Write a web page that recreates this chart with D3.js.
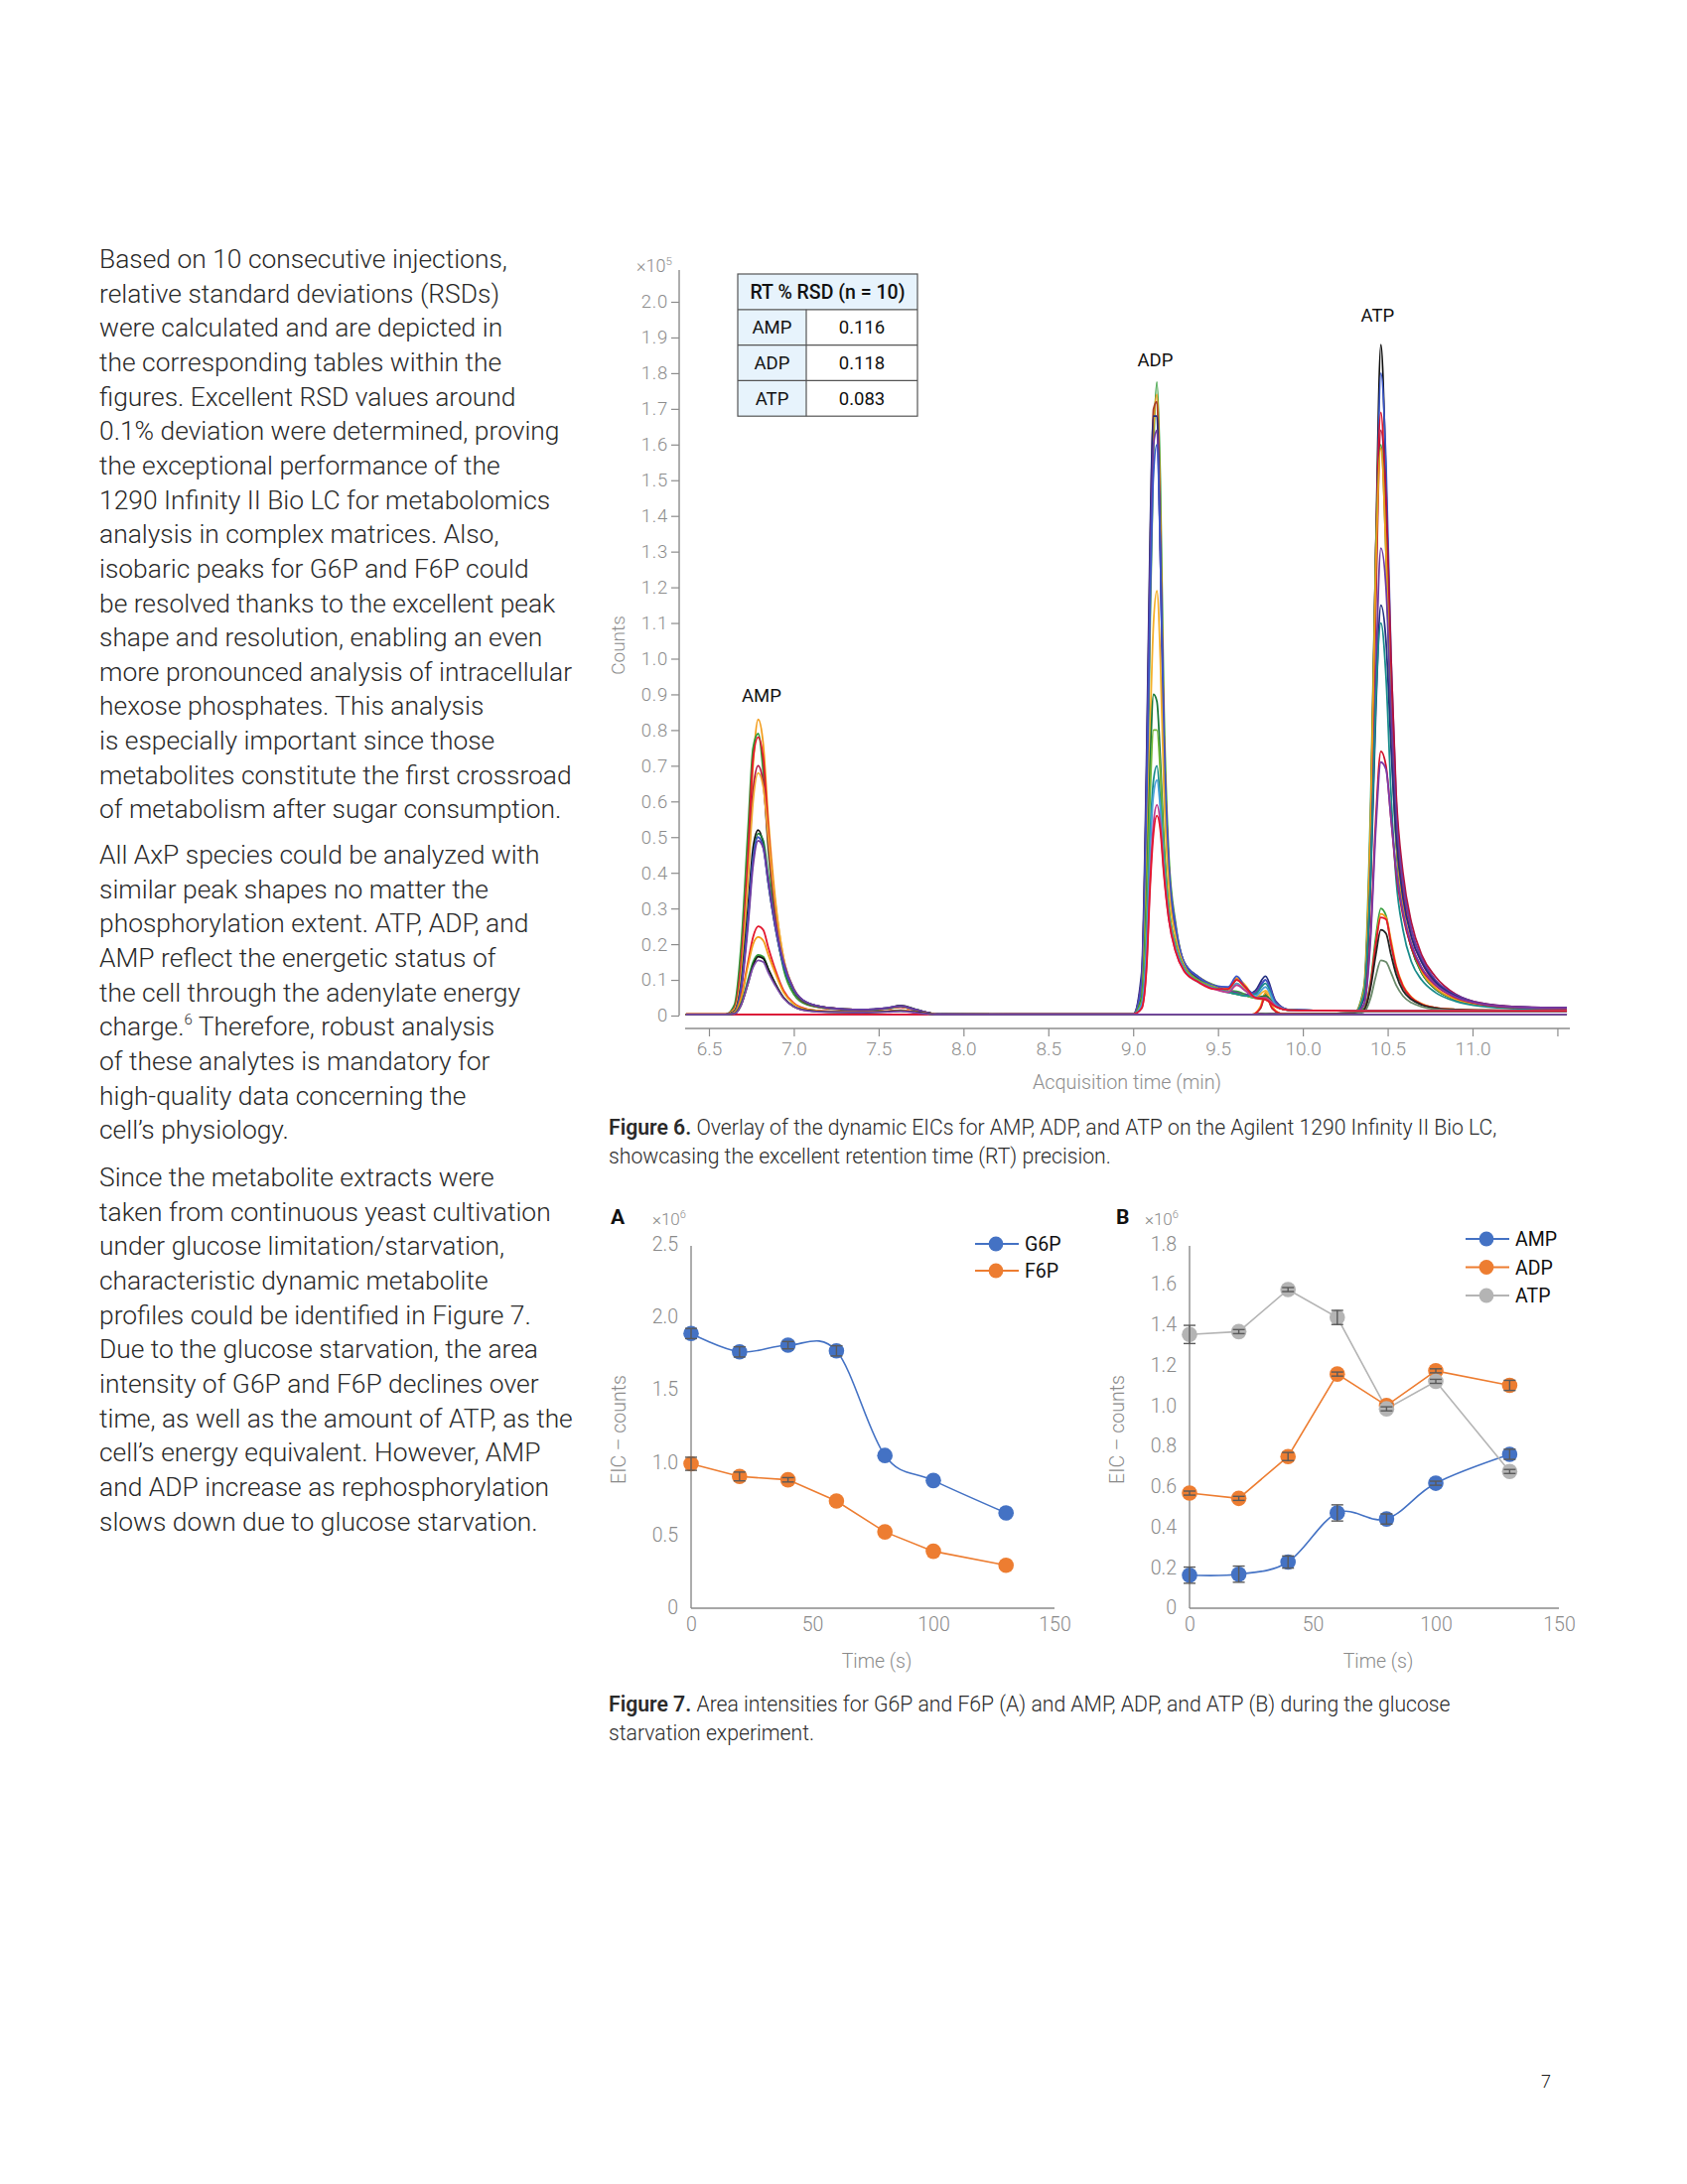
<!DOCTYPE html>
<html><head><meta charset="utf-8">
<script src="https://cdn.jsdelivr.net/npm/d3@7"></script>
<style>body{margin:0;background:#fff}svg{display:block}text{font-family:Roboto,"Noto Sans",sans-serif}</style>
</head><body>
<script>
// ---------------- DATA ----------------
const PARA1 = ["Based on 10 consecutive injections,","relative standard deviations (RSDs)","were calculated and are depicted in","the corresponding tables within the","figures. Excellent RSD values around","0.1% deviation were determined, proving","the exceptional performance of the","1290 Infinity II Bio LC for metabolomics","analysis in complex matrices. Also,","isobaric peaks for G6P and F6P could","be resolved thanks to the excellent peak","shape and resolution, enabling an even","more pronounced analysis of intracellular","hexose phosphates. This analysis","is especially important since those","metabolites constitute the first crossroad","of metabolism after sugar consumption."];
const PARA2 = ["All AxP species could be analyzed with","similar peak shapes no matter the","phosphorylation extent. ATP, ADP, and","AMP reflect the energetic status of","the cell through the adenylate energy","charge.^6 Therefore, robust analysis","of these analytes is mandatory for","high-quality data concerning the","cell\u2019s physiology."];
const PARA3 = ["Since the metabolite extracts were","taken from continuous yeast cultivation","under glucose limitation/starvation,","characteristic dynamic metabolite","profiles could be identified in Figure 7.","Due to the glucose starvation, the area","intensity of G6P and F6P declines over","time, as well as the amount of ATP, as the","cell\u2019s energy equivalent. However, AMP","and ADP increase as rephosphorylation","slows down due to glucose starvation."];

// Figure 6 : RSD table
const RSD_HEADER = "RT % RSD (n = 10)";
const RSD_NAMES = ["AMP","ADP","ATP"];
const RSD_VALUES = ["0.116","0.118","0.083"];

// Figure 6 : axis ticks (x 10^5 counts, minutes)
const Y6_TICKS = [0,0.1,0.2,0.3,0.4,0.5,0.6,0.7,0.8,0.9,1.0,1.1,1.2,1.3,1.4,1.5,1.6,1.7,1.8,1.9,2.0];
const X6_TICKS = [6.5,7.0,7.5,8.0,8.5,9.0,9.5,10.0,10.5,11.0,11.5];
const X6_LABELS = ["6.5","7.0","7.5","8.0","8.5","9.0","9.5","10.0","10.5","11.0",""];
const PEAK_LABELS = ["AMP","ADP","ATP"];
const PEAK_LABEL_T = [6.81, 9.13, 10.44];
const PEAK_LABEL_V = [0.88, 1.82, 1.945];

// AMP EIC traces (x10^5 counts) sampled at AMP_T (min)
const AMP_T = [6.365,6.60,6.65,6.69,6.73,6.76,6.79,6.82,6.85,6.89,6.94,7.00,7.08,7.20,7.40,7.55,7.63,7.72,7.85,8.20,11.556];
const AMP_TRACES = [
 [0.004,0.004,0.015,0.12,0.42,0.70,0.83,0.76,0.55,0.33,0.16,0.075,0.035,0.022,0.016,0.02,0.026,0.016,0.004,0.003,0.003],
 [0.004,0.004,0.03,0.20,0.52,0.75,0.79,0.68,0.46,0.27,0.13,0.06,0.03,0.02,0.015,0.02,0.025,0.015,0.004,0.003,0.003],
 [0.004,0.004,0.02,0.15,0.45,0.72,0.78,0.72,0.52,0.31,0.15,0.07,0.034,0.022,0.016,0.02,0.024,0.015,0.004,0.003,0.003],
 [0.004,0.004,0.02,0.14,0.40,0.63,0.70,0.65,0.48,0.30,0.15,0.07,0.033,0.02,0.015,0.019,0.024,0.015,0.004,0.003,0.003],
 [0.004,0.004,0.018,0.12,0.38,0.60,0.68,0.64,0.50,0.32,0.16,0.075,0.035,0.021,0.016,0.02,0.025,0.015,0.004,0.003,0.003],
 [0.003,0.003,0.012,0.09,0.30,0.47,0.52,0.48,0.37,0.25,0.14,0.07,0.035,0.022,0.016,0.021,0.028,0.017,0.004,0.003,0.003],
 [0.003,0.003,0.012,0.08,0.27,0.44,0.51,0.49,0.39,0.26,0.14,0.07,0.034,0.021,0.016,0.02,0.026,0.016,0.004,0.003,0.003],
 [0.003,0.003,0.01,0.08,0.27,0.44,0.50,0.47,0.37,0.25,0.14,0.072,0.036,0.022,0.016,0.021,0.027,0.016,0.004,0.003,0.003],
 [0.003,0.003,0.01,0.07,0.25,0.42,0.49,0.47,0.38,0.26,0.15,0.075,0.036,0.022,0.016,0.021,0.027,0.016,0.004,0.003,0.003],
 [0.003,0.003,0.008,0.05,0.15,0.22,0.25,0.24,0.19,0.13,0.07,0.035,0.018,0.012,0.01,0.012,0.015,0.01,0.003,0.003,0.003],
 [0.003,0.003,0.008,0.05,0.14,0.20,0.22,0.21,0.17,0.12,0.065,0.033,0.017,0.012,0.01,0.012,0.014,0.01,0.003,0.003,0.003],
 [0.003,0.003,0.006,0.035,0.10,0.15,0.17,0.165,0.13,0.09,0.05,0.026,0.014,0.01,0.009,0.011,0.013,0.009,0.003,0.003,0.003],
 [0.003,0.003,0.005,0.03,0.09,0.14,0.165,0.16,0.13,0.09,0.05,0.025,0.014,0.01,0.009,0.011,0.013,0.009,0.003,0.003,0.003],
 [0.003,0.003,0.005,0.03,0.09,0.135,0.155,0.15,0.12,0.085,0.048,0.025,0.013,0.01,0.009,0.01,0.012,0.008,0.003,0.003,0.003]
];
const AMP_COLORS = ["#f39c1a","#2f9a35","#e3162d","#b3133f","#f0a830","#111111","#1c7a3a","#3a56c8","#6d3aa0","#e3162d","#f39c1a","#2f9a35","#111111","#7a4aa8"];

// ADP EIC traces
const ADP_T = [6.365,9.00,9.05,9.08,9.10,9.12,9.14,9.16,9.18,9.21,9.25,9.30,9.38,9.48,9.56,9.61,9.66,9.72,9.78,9.84,9.92,10.10,10.35,11.556];
const ADP_TRACES = [
 [0.003,0.004,0.06,0.50,1.10,1.58,1.775,1.50,0.90,0.45,0.26,0.15,0.11,0.085,0.07,0.068,0.06,0.052,0.05,0.028,0.016,0.014,0.013,0.013],
 [0.003,0.004,0.08,0.60,1.20,1.65,1.74,1.40,0.82,0.42,0.25,0.15,0.11,0.083,0.075,0.105,0.085,0.05,0.045,0.025,0.015,0.014,0.013,0.013],
 [0.003,0.004,0.10,0.70,1.30,1.70,1.72,1.35,0.80,0.41,0.24,0.145,0.105,0.082,0.07,0.10,0.08,0.048,0.045,0.025,0.015,0.014,0.013,0.013],
 [0.003,0.004,0.12,0.75,1.35,1.68,1.68,1.30,0.78,0.40,0.24,0.145,0.105,0.08,0.068,0.062,0.058,0.07,0.11,0.04,0.016,0.014,0.013,0.013],
 [0.003,0.004,0.10,0.68,1.25,1.60,1.64,1.30,0.80,0.42,0.25,0.15,0.11,0.082,0.07,0.064,0.058,0.065,0.10,0.038,0.016,0.014,0.013,0.013],
 [0.003,0.004,0.08,0.60,1.15,1.52,1.60,1.30,0.80,0.42,0.25,0.15,0.11,0.084,0.08,0.11,0.08,0.06,0.10,0.035,0.016,0.014,0.013,0.013],
 [0.003,0.004,0.05,0.40,0.80,1.10,1.19,1.00,0.65,0.36,0.22,0.14,0.10,0.08,0.068,0.09,0.075,0.05,0.07,0.03,0.015,0.014,0.013,0.013],
 [0.003,0.004,0.05,0.35,0.70,0.90,0.88,0.72,0.50,0.30,0.20,0.135,0.10,0.078,0.066,0.06,0.056,0.05,0.055,0.028,0.015,0.014,0.013,0.013],
 [0.003,0.004,0.04,0.30,0.62,0.80,0.80,0.68,0.48,0.30,0.20,0.135,0.10,0.078,0.066,0.06,0.056,0.05,0.05,0.028,0.015,0.014,0.013,0.013],
 [0.003,0.004,0.03,0.22,0.50,0.66,0.70,0.60,0.44,0.28,0.19,0.13,0.095,0.076,0.065,0.06,0.055,0.06,0.09,0.03,0.015,0.014,0.013,0.013],
 [0.003,0.004,0.03,0.20,0.46,0.62,0.66,0.58,0.43,0.28,0.19,0.13,0.095,0.076,0.066,0.09,0.07,0.055,0.08,0.03,0.015,0.014,0.013,0.013],
 [0.003,0.004,0.02,0.15,0.38,0.54,0.59,0.54,0.41,0.27,0.18,0.125,0.095,0.074,0.065,0.085,0.07,0.05,0.05,0.027,0.015,0.014,0.013,0.013],
 [0.003,0.004,0.02,0.14,0.36,0.51,0.56,0.52,0.40,0.27,0.18,0.125,0.095,0.074,0.075,0.10,0.08,0.05,0.045,0.025,0.015,0.014,0.013,0.013]
];
const ADP_COLORS = ["#3aa040","#f39c1a","#a8402a","#232f80","#6d3aa0","#3a56c8","#f5b02a","#1c7a3a","#72b83a","#1a8c8c","#4aa0d8","#c03a8c","#e3162d"];

// ATP EIC traces
const ATP_T = [6.365,9.70,9.75,9.78,9.82,9.88,10.30,10.36,10.40,10.43,10.46,10.49,10.52,10.55,10.59,10.64,10.70,10.78,10.90,11.05,11.30,11.556];
const ATP_TRACES = [
 [0.003,0.003,0.004,0.005,0.004,0.004,0.006,0.06,0.50,1.30,1.88,1.50,0.90,0.50,0.30,0.19,0.12,0.075,0.045,0.03,0.022,0.02],
 [0.003,0.003,0.004,0.005,0.004,0.004,0.006,0.05,0.45,1.20,1.80,1.55,1.00,0.60,0.38,0.24,0.16,0.10,0.06,0.035,0.024,0.022],
 [0.003,0.003,0.004,0.005,0.004,0.004,0.006,0.07,0.55,1.30,1.69,1.40,0.90,0.55,0.35,0.22,0.15,0.09,0.055,0.032,0.022,0.02],
 [0.003,0.003,0.004,0.005,0.004,0.004,0.006,0.05,0.45,1.15,1.64,1.45,1.00,0.62,0.40,0.26,0.17,0.11,0.06,0.035,0.024,0.022],
 [0.003,0.003,0.004,0.005,0.004,0.004,0.006,0.08,0.60,1.30,1.60,1.30,0.80,0.48,0.30,0.19,0.12,0.075,0.045,0.03,0.02,0.019],
 [0.003,0.003,0.004,0.005,0.004,0.004,0.006,0.07,0.55,1.25,1.59,1.30,0.82,0.50,0.31,0.20,0.125,0.078,0.046,0.03,0.021,0.019],
 [0.003,0.003,0.004,0.005,0.004,0.004,0.005,0.05,0.40,0.95,1.31,1.20,0.85,0.56,0.37,0.24,0.16,0.10,0.058,0.034,0.023,0.021],
 [0.003,0.003,0.004,0.005,0.004,0.004,0.005,0.05,0.38,0.85,1.15,1.05,0.75,0.50,0.33,0.22,0.15,0.095,0.055,0.033,0.023,0.021],
 [0.003,0.003,0.004,0.005,0.004,0.004,0.005,0.06,0.40,0.88,1.10,0.95,0.62,0.38,0.24,0.15,0.10,0.065,0.04,0.026,0.019,0.018],
 [0.003,0.003,0.004,0.005,0.004,0.004,0.005,0.03,0.24,0.55,0.74,0.70,0.55,0.40,0.28,0.19,0.13,0.085,0.05,0.032,0.022,0.02],
 [0.003,0.003,0.004,0.005,0.004,0.004,0.005,0.03,0.22,0.52,0.71,0.69,0.55,0.41,0.29,0.20,0.135,0.088,0.052,0.033,0.023,0.021],
 [0.003,0.003,0.02,0.06,0.02,0.005,0.005,0.02,0.10,0.22,0.30,0.28,0.20,0.13,0.08,0.05,0.032,0.022,0.017,0.015,0.014,0.014],
 [0.003,0.003,0.025,0.065,0.025,0.005,0.005,0.015,0.09,0.20,0.285,0.275,0.21,0.14,0.085,0.052,0.033,0.022,0.017,0.015,0.014,0.014],
 [0.003,0.003,0.02,0.055,0.02,0.005,0.005,0.015,0.09,0.20,0.275,0.27,0.20,0.135,0.082,0.05,0.032,0.022,0.017,0.015,0.014,0.014],
 [0.003,0.003,0.004,0.005,0.004,0.004,0.005,0.015,0.08,0.17,0.24,0.23,0.17,0.115,0.07,0.045,0.03,0.021,0.016,0.015,0.014,0.014],
 [0.003,0.003,0.004,0.005,0.004,0.004,0.004,0.01,0.05,0.11,0.155,0.15,0.12,0.085,0.055,0.036,0.025,0.018,0.015,0.014,0.013,0.013]
];
const ATP_COLORS = ["#111111","#3a56c8","#e3162d","#b3133f","#3aa040","#f39c1a","#6d3aa0","#232f80","#1a8c8c","#d0102a","#7a3aa8","#3aa040","#f39c1a","#e3162d","#222222","#6a8a6a"];

// Figure 7A (x10^6 counts)
const TIME_S = [0,20,40,60,80,100,130];
const G6P = [1.884,1.758,1.804,1.765,1.046,0.874,0.651];
const G6P_ERR = [0.035,0.035,0.025,0.035,0.01,0.01,0.01];
const F6P = [0.989,0.902,0.879,0.733,0.521,0.388,0.292];
const F6P_ERR = [0.045,0.03,0.015,0.01,0.01,0.01,0.01];
const A_YTICKS = [0,0.5,1.0,1.5,2.0,2.5];
const A_YLABELS = ["0","0.5","1.0","1.5","2.0","2.5"];
// Figure 7B
const AMP7 = [0.161,0.166,0.226,0.469,0.439,0.616,0.759];
const AMP7_ERR = [0.04,0.04,0.03,0.04,0.025,0.01,0.025];
const ADP7 = [0.567,0.541,0.748,1.156,1.0,1.172,1.10];
const ADP7_ERR = [0.01,0.01,0.02,0.01,0.01,0.01,0.025];
const ATP7 = [1.352,1.366,1.574,1.436,0.984,1.12,0.674];
const ATP7_ERR = [0.045,0.01,0.01,0.035,0.01,0.01,0.01];
const B_YTICKS = [0,0.2,0.4,0.6,0.8,1.0,1.2,1.4,1.6,1.8];
const B_YLABELS = ["0","0.2","0.4","0.6","0.8","1.0","1.2","1.4","1.6","1.8"];
const X7_TICKS = [0,50,100,150];

// ---------------- DRAW ----------------
const svg = d3.select("body").append("svg").attr("width",1699).attr("height",2200);
svg.append("rect").attr("width",1699).attr("height",2200).attr("fill","#fff");

function paragraph(lines, x, y0, step){
  lines.forEach((ln,i)=>{
    const t = svg.append("text").attr("x",x).attr("y",y0+i*step)
      .attr("font-size",26.4).attr("font-weight",300).attr("fill","#2a2a2a");
    if(ln.includes("^")){
      const parts = ln.split("^");
      t.append("tspan").text(parts[0]);
      t.append("tspan").attr("font-size",15).attr("dy",-11).text(parts[1][0]);
      t.append("tspan").attr("dy",11).text(parts[1].slice(1));
    } else t.text(ln);
  });
}
paragraph(PARA1,100,270,34.65);
paragraph(PARA2,100,870,34.65);
paragraph(PARA3,100,1195,34.65);

// ---- Figure 6 ----
const tx = d3.scaleLinear().domain([6.5,11.0]).range([714,1483]);
const ty = d3.scaleLinear().domain([0,2.0]).range([1023,304]);
const AX = "#8c8c8c";

// y axis
const gy = svg.append("g").attr("transform","translate(684,0)")
  .call(d3.axisLeft(ty).tickValues(Y6_TICKS).tickSize(8).tickPadding(3)
    .tickFormat(d=> d===0?"0":d.toFixed(1)));
gy.select(".domain").remove();
gy.selectAll(".tick line").attr("stroke",AX).attr("stroke-width",1.2);
gy.selectAll(".tick text").attr("fill",AX).attr("font-size",18.5).attr("font-weight",300)
  .attr("font-family","Roboto").attr("letter-spacing",0.8);
svg.append("line").attr("x1",684).attr("x2",684).attr("y1",272).attr("y2",ty(0))
  .attr("stroke",AX).attr("stroke-width",1.4);
const e5 = svg.append("text").attr("x",641).attr("y",274).attr("font-size",18).attr("fill",AX).attr("font-weight",300);
e5.append("tspan").text("\u00d710");
e5.append("tspan").attr("font-size",11.5).attr("dy",-7).text("5");
svg.append("text").attr("transform","translate(629,650) rotate(-90)").attr("text-anchor","middle")
  .attr("font-size",19).attr("fill",AX).attr("font-weight",300).text("Counts");

// x axis
const gx = svg.append("g").attr("transform","translate(0,1036)")
  .call(d3.axisBottom(tx).tickValues(X6_TICKS).tickSize(8).tickPadding(6)
    .tickFormat((d,i)=>X6_LABELS[i]));
gx.select(".domain").remove();
gx.selectAll(".tick line").attr("stroke",AX).attr("stroke-width",1.2);
gx.selectAll(".tick text").attr("fill",AX).attr("font-size",19).attr("font-weight",300).attr("font-family","Roboto");
svg.append("line").attr("x1",690).attr("x2",1581).attr("y1",1036).attr("y2",1036).attr("stroke",AX).attr("stroke-width",1.4);
svg.append("text").attr("x",1135).attr("y",1097).attr("text-anchor","middle").attr("font-size",19.8)
  .attr("fill",AX).attr("font-weight",300).text("Acquisition time (min)");

// traces
function drawTraces(T, traces, colors){
  const line = d3.line().x((d,i)=>tx(T[i])).y(d=>ty(d)).curve(d3.curveMonotoneX);
  traces.forEach((tr,k)=>{
    svg.append("path").attr("d",line(tr)).attr("fill","none")
      .attr("stroke",colors[k%colors.length]).attr("stroke-width",1.8).attr("stroke-linejoin","round");
  });
}
drawTraces(ATP_T, ATP_TRACES, ATP_COLORS);
drawTraces(ADP_T, ADP_TRACES, ADP_COLORS);
drawTraces(AMP_T, AMP_TRACES, AMP_COLORS);

PEAK_LABELS.forEach((s,i)=>{
  svg.append("text").attr("x",tx(PEAK_LABEL_T[i])).attr("y",ty(PEAK_LABEL_V[i]))
    .attr("text-anchor","middle").attr("font-size",18.5).attr("fill","#111").text(s);
});

// RSD table
(function(){
  const x0=743, x1=812, x2=924, y0=276, rh=35.8;
  const g = svg.append("g");
  g.append("rect").attr("x",x0).attr("y",y0).attr("width",x2-x0).attr("height",rh).attr("fill","#e7f3fc");
  RSD_NAMES.forEach((n,i)=>{
    const yy = y0+rh*(i+1);
    g.append("rect").attr("x",x0).attr("y",yy).attr("width",x1-x0).attr("height",rh).attr("fill","#e7f3fc");
    g.append("text").attr("x",(x0+x1)/2).attr("y",yy+rh/2+6.5).attr("text-anchor","middle").attr("font-size",18.5).attr("fill","#111").text(n);
    g.append("text").attr("x",(x1+x2)/2).attr("y",yy+rh/2+6.5).attr("text-anchor","middle").attr("font-size",18.5).attr("fill","#111").text(RSD_VALUES[i]);
    g.append("line").attr("x1",x0).attr("x2",x2).attr("y1",yy).attr("y2",yy).attr("stroke","#555").attr("stroke-width",1.2);
  });
  g.append("text").attr("x",(x0+x2)/2).attr("y",y0+rh/2+7).attr("text-anchor","middle").attr("font-size",19.5)
    .attr("font-weight",500).attr("fill","#111").text(RSD_HEADER);
  g.append("line").attr("x1",x1).attr("x2",x1).attr("y1",y0+rh).attr("y2",y0+rh*4).attr("stroke","#555").attr("stroke-width",1.2);
  g.append("rect").attr("x",x0).attr("y",y0).attr("width",x2-x0).attr("height",rh*4).attr("fill","none").attr("stroke","#555").attr("stroke-width",1.2);
})();

// captions
function caption(x,y,bold,rest,line2){
  const t = svg.append("text").attr("x",x).attr("y",y).attr("font-size",21.2).attr("fill","#2a2a2a");
  t.append("tspan").attr("font-weight",600).text(bold);
  t.append("tspan").attr("font-weight",300).text(rest);
  svg.append("text").attr("x",x).attr("y",y+28.5).attr("font-size",21.2).attr("font-weight",300).attr("fill","#2a2a2a").text(line2);
}
caption(613,1143,"Figure 6."," Overlay of the dynamic EICs for AMP, ADP, and ATP on the Agilent 1290 Infinity II Bio LC,","showcasing the excellent retention time (RT) precision.");
caption(613,1724,"Figure 7."," Area intensities for G6P and F6P (A) and AMP, ADP, and ATP (B) during the glucose","starvation experiment.");

// ---- Figure 7 panels ----
const C_BLUE="#4472c4", C_ORANGE="#ed7d31", C_GRAY="#b4b4b4", AX7="#8a8a8a";
function panel(opt){
  const x = d3.scaleLinear().domain([0,150]).range([opt.x0,opt.x1]);
  const y = d3.scaleLinear().domain([0,opt.ymax]).range([1619.5,1253]);
  svg.append("line").attr("x1",opt.x0).attr("x2",opt.x0).attr("y1",1255).attr("y2",1620).attr("stroke",AX7).attr("stroke-width",1.4);
  svg.append("line").attr("x1",opt.x0).attr("x2",opt.x1).attr("y1",1620).attr("y2",1620).attr("stroke",AX7).attr("stroke-width",1.4);
  const gy = svg.append("g").attr("transform",`translate(${opt.x0},0)`)
    .call(d3.axisLeft(y).tickValues(opt.yticks).tickSize(0).tickPadding(13).tickFormat((d,i)=>opt.ylabels[i]));
  gy.select(".domain").remove();
  gy.selectAll("text").attr("fill",AX7).attr("font-size",19.5).attr("font-weight",300).attr("font-family","Roboto");
  const gx = svg.append("g").attr("transform","translate(0,1620)")
    .call(d3.axisBottom(x).tickValues(X7_TICKS).tickSize(0).tickPadding(9));
  gx.select(".domain").remove();
  gx.selectAll("text").attr("fill",AX7).attr("font-size",19.5).attr("font-weight",300).attr("font-family","Roboto");
  svg.append("text").attr("x",(opt.x0+opt.x1)/2+4).attr("y",1680).attr("text-anchor","middle").attr("font-size",19.5)
    .attr("font-weight",300).attr("fill",AX7).text("Time (s)");
  svg.append("text").attr("transform",`translate(${opt.x0-66},1440) rotate(-90)`).attr("text-anchor","middle")
    .attr("font-size",19.5).attr("font-weight",300).attr("fill",AX7).text("EIC \u2013 counts");
  svg.append("text").attr("x",opt.lx).attr("y",1233).attr("font-size",21).attr("font-weight",700).attr("fill","#111").text(opt.letter);
  const e = svg.append("text").attr("x",opt.ex).attr("y",1234).attr("font-size",17).attr("font-weight",300).attr("fill",AX7);
  e.append("tspan").text("\u00d710"); e.append("tspan").attr("font-size",11).attr("dy",-7).text("6");

  const order = opt.drawOrder;
  order.forEach(k=>{
    const s = opt.series[k];
    const line = d3.line().x((d,i)=>x(TIME_S[i])).y(d=>y(d));
    if(s.smooth) line.curve(d3.curveCatmullRom.alpha(0));
    svg.append("path").attr("d",line(s.v)).attr("fill","none").attr("stroke",s.color).attr("stroke-width",1.6);
  });
  order.forEach(k=>{
    const s = opt.series[k];
    s.v.forEach((v,i)=>{
      const cx=x(TIME_S[i]);
      svg.append("circle").attr("cx",cx).attr("cy",y(v)).attr("r",7.8).attr("fill",s.color);
      const e=s.err[i];
      if(y(v-e)-y(v+e)>4){
        const g=svg.append("g").attr("stroke","#5a5a5a").attr("stroke-width",1.4);
        g.append("line").attr("x1",cx).attr("x2",cx).attr("y1",y(v-e)).attr("y2",y(v+e));
        g.append("line").attr("x1",cx-6).attr("x2",cx+6).attr("y1",y(v-e)).attr("y2",y(v-e));
        g.append("line").attr("x1",cx-6).attr("x2",cx+6).attr("y1",y(v+e)).attr("y2",y(v+e));
      }
    });
  });
  // legend
  opt.series.forEach((s,i)=>{
    const yy = opt.legY + i*opt.legStep;
    svg.append("line").attr("x1",opt.legX).attr("x2",opt.legX+44).attr("y1",yy).attr("y2",yy).attr("stroke",s.color).attr("stroke-width",1.8);
    svg.append("circle").attr("cx",opt.legX+21).attr("cy",yy).attr("r",7.4).attr("fill",s.color);
    svg.append("text").attr("x",opt.legX+50).attr("y",yy+7).attr("font-size",19.5).attr("fill","#111").text(s.name);
  });
}
panel({x0:696,x1:1062,ymax:2.5,yticks:A_YTICKS,ylabels:A_YLABELS,lx:615,ex:657,letter:"A",
  legX:982,legY:1253,legStep:27,drawOrder:[1,0],
  series:[{name:"G6P",v:G6P,err:G6P_ERR,color:C_BLUE,smooth:true},{name:"F6P",v:F6P,err:F6P_ERR,color:C_ORANGE,smooth:false}]});
panel({x0:1198,x1:1570,ymax:1.8,yticks:B_YTICKS,ylabels:B_YLABELS,lx:1124,ex:1153,letter:"B",
  legX:1476,legY:1248,legStep:28.5,drawOrder:[0,1,2],
  series:[{name:"AMP",v:AMP7,err:AMP7_ERR,color:C_BLUE,smooth:true},{name:"ADP",v:ADP7,err:ADP7_ERR,color:C_ORANGE,smooth:false},{name:"ATP",v:ATP7,err:ATP7_ERR,color:C_GRAY,smooth:false}]});

svg.append("text").attr("x",1557).attr("y",2103).attr("text-anchor","middle").attr("font-size",18).attr("font-weight",300).attr("fill","#222").text("7");
</script>
</body></html>
